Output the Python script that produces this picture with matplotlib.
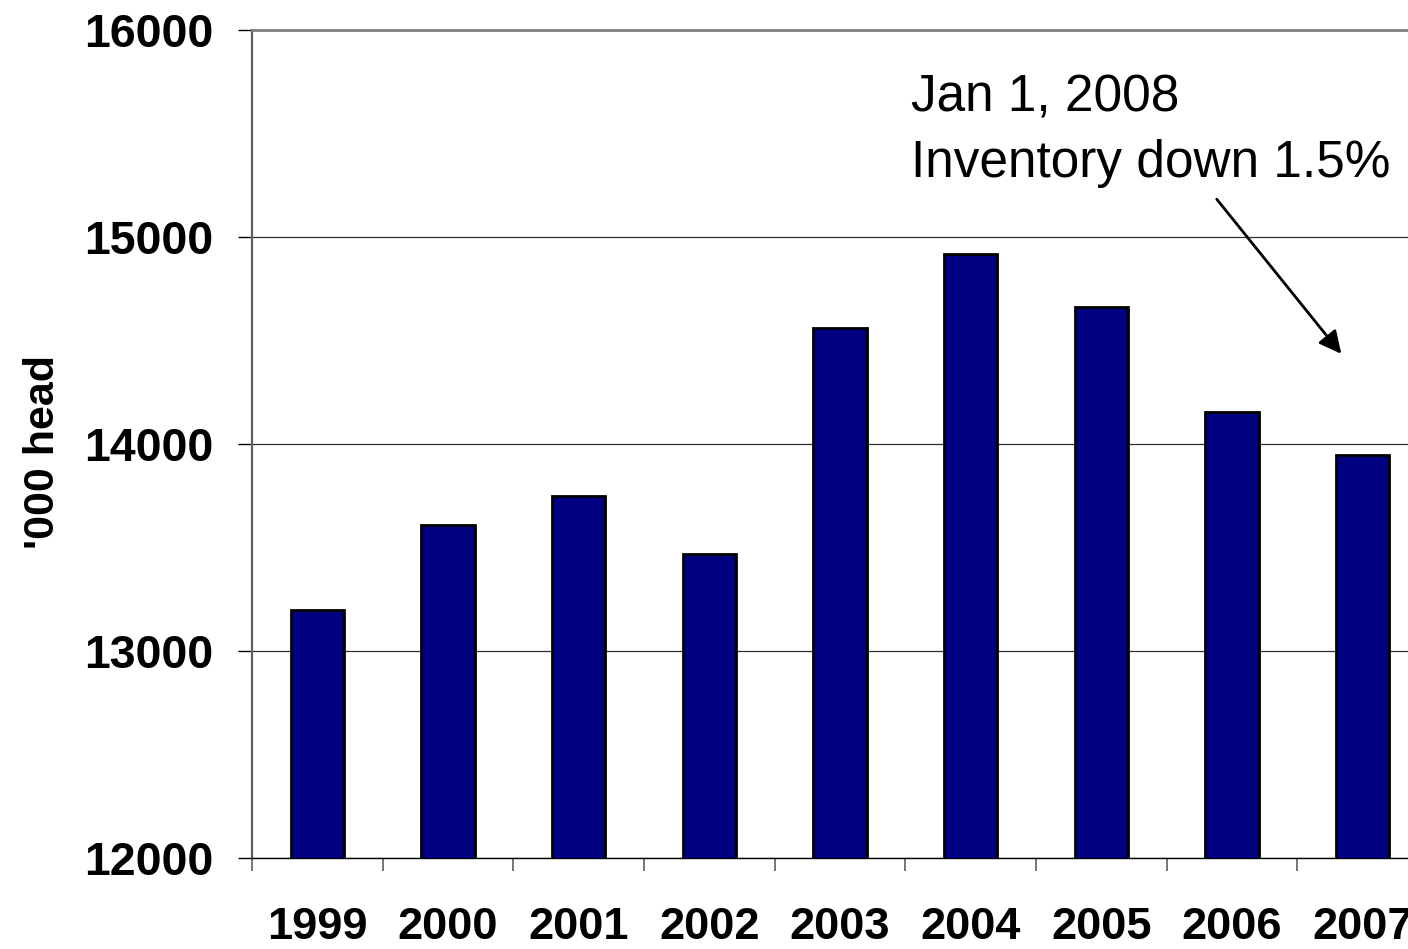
import matplotlib.pyplot as plt
from matplotlib.ticker import FixedLocator

plt.rcParams['font.family'] = ['Liberation Sans', 'DejaVu Sans']

years = ['1999', '2000', '2001', '2002', '2003', '2004', '2005', '2006', '2007']
inventory = [13200, 13610, 13750, 13470, 14560, 14920, 14660, 14155, 13945]
y_ticks = [12000, 13000, 14000, 15000, 16000]

fig = plt.figure(figsize=(14.08, 9.49), dpi=100)
ax = fig.add_axes([252 / 1408, 91 / 949, 1176 / 1408, 828 / 949])

x = list(range(len(years)))
ax.bar(x, inventory, width=0.41, color='#000080', edgecolor='black', linewidth=2.0, zorder=3)

ax.set_xlim(-0.5, len(years) - 0.5)
ax.set_ylim(12000, 16000)
ax.set_yticks(y_ticks)
ax.set_yticklabels([str(v) for v in y_ticks], fontsize=33.5, fontweight='bold')
ax.set_xticks(x)
ax.set_xticklabels(years, fontsize=32.5, fontweight='bold')
ax.xaxis.set_minor_locator(FixedLocator([i - 0.5 for i in range(len(years) + 1)]))
ax.tick_params(axis='x', which='major', length=0, pad=35)
ax.tick_params(axis='x', which='minor', length=9, width=1.2, color='#606060', direction='out')
ax.tick_params(axis='y', which='major', length=10, width=1.0, color='black', pad=18)

ax.grid(axis='y', color='#303030', linewidth=0.9, zorder=0)
ax.spines['right'].set_visible(False)
ax.spines['top'].set_color('#808080')
ax.spines['top'].set_linewidth(2)
ax.spines['left'].set_color('#606060')
ax.spines['left'].set_linewidth(1.6)
ax.spines['bottom'].set_color('black')
ax.spines['bottom'].set_linewidth(1.0)

ax.set_ylabel("'000 head", fontsize=31, fontweight='bold')
ax.yaxis.set_label_coords(-0.161, 0.49)

ax.text(4.54, 15604, 'Jan 1, 2008', fontsize=37, ha='left', va='baseline')
ax.text(4.54, 15290, 'Inventory down 1.5%', fontsize=37, ha='left', va='baseline')
ax.annotate('', xy=(7.85, 14425), xytext=(6.87, 15193),
            arrowprops=dict(arrowstyle='-|>', color='black', lw=2, mutation_scale=34))

fig.savefig('out.png', dpi=100)
